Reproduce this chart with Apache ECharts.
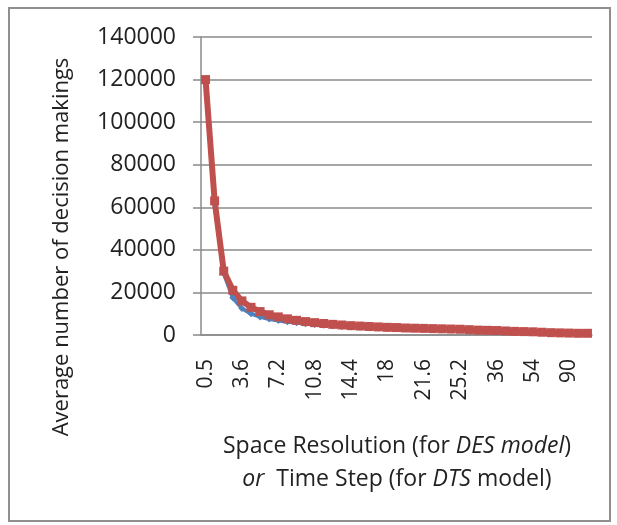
<!DOCTYPE html>
<html>
<head>
<meta charset="utf-8">
<script src="https://cdn.jsdelivr.net/npm/echarts@6/dist/echarts.min.js"></script>
<style>
  html, body { margin: 0; padding: 0; background: #fff; }
  #main { width: 617px; height: 525px; }
</style>
</head>
<body>
<div id="main"></div>
<script>
// space resolution / time step categories
var steps = ['0.5', '0.9', '1.8', '2.7', '3.6', '4.5', '5.4', '6.3', '7.2', '8.1',
  '9', '9.9', '10.8', '11.7', '12.6', '13.5', '14.4', '15.3', '16.2', '17.1',
  '18', '18.9', '19.8', '20.7', '21.6', '22.5', '23.4', '24.3', '25.2', '27.9',
  '30.6', '33.3', '36', '40.5', '45', '49.5', '54', '63', '72', '81',
  '90', '99', '108'];

// DTS model (blue)
var dtsVals = [120000, 62000, 29000, 17500, 12500, 10000, 8500, 7500, 6800, 6200,
  5700, 5300, 4900, 4600, 4300, 4000, 3800, 3600, 3400, 3300,
  3100, 3000, 2900, 2800, 2700, 2600, 2500, 2400, 2300, 2200,
  2000, 1900, 1800, 1600, 1500, 1400, 1300, 1100, 1000, 900,
  800, 700, 700];

// DES model (red)
var desVals = [120000, 63000, 30000, 21000, 16000, 13000, 11000, 9500, 8500, 7600,
  6900, 6300, 5800, 5400, 5000, 4700, 4400, 4200, 4000, 3800,
  3600, 3500, 3300, 3200, 3100, 3000, 2900, 2800, 2700, 2500,
  2300, 2200, 2100, 1900, 1700, 1600, 1500, 1300, 1100, 1000,
  900, 800, 800];

var yMax = 140000;
var yStep = 20000;

var myChart = echarts.init(document.getElementById('main'));

var option = {
  animation: false,
  backgroundColor: '#fff',
  grid: {
    left: 201,
    right: 25,
    top: 37,
    bottom: 190
  },
  xAxis: {
    type: 'category',
    boundaryGap: true,
    data: steps,
    axisLine: { lineStyle: { color: '#8a8a8a', width: 1.5 } },
    axisTick: { show: false },
    axisLabel: {
      rotate: 90,
      interval: 3,
      margin: 24,
      color: '#222',
      fontFamily: 'Open Sans',
      fontSize: 21
    }
  },
  yAxis: {
    type: 'value',
    min: 0,
    max: yMax,
    interval: yStep,
    axisLine: { show: true, lineStyle: { color: '#8a8a8a', width: 1.5 } },
    axisTick: { show: true, length: 8, lineStyle: { color: '#8a8a8a', width: 1.5 } },
    splitLine: { lineStyle: { color: '#8a8a8a', width: 1.5 } },
    axisLabel: {
      margin: 25,
      color: '#222',
      fontFamily: 'Open Sans',
      fontSize: 23,
      formatter: function (v) { return String(v); }
    }
  },
  series: [
    {
      name: 'DTS',
      type: 'line',
      data: dtsVals,
      showAllSymbol: true,
      symbol: 'diamond',
      symbolSize: 7,
      lineStyle: { color: '#4f81bd', width: 4 },
      itemStyle: { color: '#4f81bd' }
    },
    {
      name: 'DES',
      type: 'line',
      data: desVals,
      showAllSymbol: true,
      symbol: 'rect',
      symbolSize: 9,
      lineStyle: { color: '#c0504d', width: 6 },
      itemStyle: { color: '#c0504d' }
    }
  ],
  graphic: [
    {
      type: 'rect',
      shape: { x: 9, y: 8, width: 601, height: 513 },
      style: { fill: 'none', stroke: '#8f8f8f', lineWidth: 2 }
    },
    {
      type: 'text',
      x: 62,
      y: 247,
      rotation: Math.PI / 2,
      style: {
        text: 'Average number of decision makings',
        fill: '#222',
        font: '22px "Open Sans"',
        align: 'center',
        verticalAlign: 'middle'
      }
    },
    {
      type: 'text',
      x: 397,
      y: 446,
      style: {
        text: '{n|Space Resolution (for }{i|DES model}{n|)}',
        align: 'center',
        verticalAlign: 'middle',
        rich: {
          n: { fill: '#222', fontFamily: 'Open Sans', fontSize: 23 },
          i: { fill: '#222', fontFamily: 'Open Sans', fontSize: 23, fontStyle: 'italic' }
        }
      }
    },
    {
      type: 'text',
      x: 397,
      y: 479,
      style: {
        text: '{i|or}{n|  Time Step (for }{i|DTS}{n| model)}',
        align: 'center',
        verticalAlign: 'middle',
        rich: {
          n: { fill: '#222', fontFamily: 'Open Sans', fontSize: 23 },
          i: { fill: '#222', fontFamily: 'Open Sans', fontSize: 23, fontStyle: 'italic' }
        }
      }
    }
  ]
};

myChart.setOption(option);
window.onresize = myChart.resize;
</script>
</body>
</html>
